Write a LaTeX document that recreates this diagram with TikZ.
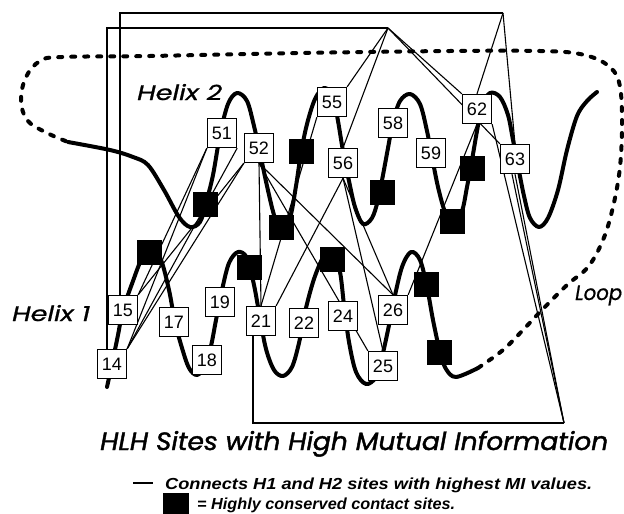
\documentclass[tikz,border=0pt]{standalone}
\usepackage{fontspec}
\setmainfont{Liberation Sans}
\newfontfamily\comicfont{Poppins}[ItalicFeatures={FakeBold=0.8}]
\newfontfamily\titlefont{Poppins}[ItalicFeatures={FakeBold=1.6}]
\usetikzlibrary{calc, backgrounds}

\tikzset{
  site/.style={draw, fill=white, line width=1.3pt, minimum size=29pt, inner sep=0pt,
    font=\fontsize{18}{18}\selectfont},
  contact/.style={fill=black, minimum size=25pt, inner sep=0pt},
  helix/.style={line width=4pt, line cap=round, line join=round},
  loopline/.style={line width=4pt, line cap=round, dash pattern=on 4pt off 9pt},
  link/.style={line width=1.1pt},
  frame/.style={line width=1.7pt},
  tag/.style={anchor=base west, inner sep=0pt, font=\comicfont\itshape\fontsize{21}{21}\selectfont},
  legend/.style={anchor=base west, inner sep=0pt, font=\bfseries\itshape\fontsize{16}{16}\selectfont},
}

\begin{document}
\begin{tikzpicture}[x=1pt, y=-1pt]
\useasboundingbox (0,0) rectangle (624,514);

% helix 1 sites
\node[site] (s14) at (112,364) {14};
\node[site] (s15) at (123,310) {15};
\node[site] (s17) at (174,322) {17};
\node[site] (s18) at (207,360) {18};
\node[site] (s19) at (220,302) {19};
\node[site] (s21) at (261,321) {21};
\node[site] (s22) at (304,323) {22};
\node[site] (s24) at (343,316) {24};
\node[site] (s25) at (383,366) {25};
\node[site] (s26) at (393,310) {26};
% helix 2 sites
\node[site] (s51) at (222,133) {51};
\node[site] (s52) at (259,148) {52};
\node[site] (s55) at (332,102) {55};
\node[site] (s56) at (343,163) {56};
\node[site] (s58) at (393,123) {58};
\node[site] (s59) at (431,153) {59};
\node[site] (s62) at (477,109) {62};
\node[site] (s63) at (515,159) {63};
% conserved contact sites
\node[contact] (c1) at (205,204) {};
\node[contact] (c2) at (301,151) {};
\node[contact] (c3) at (281,227) {};
\node[contact] (c4) at (149,252) {};
\node[contact] (c5) at (249,267) {};
\node[contact] (c6) at (332,259) {};
\node[contact] (c7) at (382,192) {};
\node[contact] (c8) at (452,221) {};
\node[contact] (c9) at (472,168) {};
\node[contact] (c10) at (426,284) {};
\node[contact] (c11) at (439,352) {};

\coordinate (apexA) at (388,28);
\coordinate (apexB) at (503,13);
\coordinate (cornerC) at (564,423);

\begin{pgfonlayer}{background}
\draw[loopline] plot[smooth, tension=0.6] coordinates {(478,368) (503,350) (523,330) (540,312)
  (567,285) (588,267) (603,240) (613,207) (620,167) (622,120) (619,82) (606,64) (580,54)
  (540,51) (450,51) (300,53) (150,56) (62,57) (40,61) (26,77) (21,100) (27,120) (45,132) (68,142)};

\draw[helix] plot[smooth, tension=0.55] coordinates {(107,387) (112,364) (118,335) (123,310)
  (133,281) (142,258) (151,247) (161,260) (169,290) (175,322) (182,348) (189,368) (197,375)
  (205,366) (211,346) (216,320) (222,290) (229,263) (238,252) (247,258) (254,285) (260,318)
  (266,349) (274,370) (283,376) (292,367) (299,343) (305,312) (314,279) (324,256) (333,252)
  (340,272) (344,305) (349,342) (356,372) (366,384) (376,377) (382,357) (388,330) (394,300)
  (402,267) (411,252) (420,260) (427,287) (433,320) (440,352) (446,369) (456,377) (478,368)};

\draw[helix] plot[smooth, tension=0.55] coordinates {(68,142) (110,150) (133,157) (148,165)
  (164,190) (179,217) (190,227) (200,222) (206,203) (213,175) (220,135) (228,104) (237,93)
  (247,101) (254,126) (260,153) (267,186) (274,215) (281,233) (290,218) (296,186) (301,153)
  (307,124) (315,99) (324,88) (333,96) (338,121) (343,151) (349,181) (355,207) (363,224)
  (372,218) (378,200) (383,175) (388,148) (393,122) (400,101) (410,94) (420,104) (427,131)
  (432,157) (438,187) (445,212) (453,225) (462,211) (467,187) (472,160) (477,131) (482,106)
  (490,93) (500,97) (508,115) (513,140) (518,166) (524,196) (530,218) (539,227) (548,218)
  (558,190) (567,150) (577,116) (587,101) (597,92)};

% routed connections
\draw[frame] ([xshift=-5pt]s14.north) |- (apexA);
\draw[frame] ([xshift=-3pt]s15.north) |- (apexB);
\draw[frame] ([xshift=-8pt]s21.south) |- (cornerC);
\draw[link] (apexA) -- (s55.north east);
\draw[link] (apexA) -- (s56.north);
\draw[link] (apexA) -- (s62.north west);
\draw[link] (apexA) -- (s63.north west);
\draw[link] (apexB) -- (s62.north);
\draw[link] (apexB) -- (s63.north);
\draw[link] (cornerC) -- (s62.south east);
\draw[link] (cornerC) -- ([xshift=-3pt]s63.south);
\draw[link] (cornerC) -- (s63.south);

% direct connections
\draw[link] (s14.north east) -- (s51.south west);
\draw[link] (s14.north east) -- (s51.south east);
\draw[link] (s14.north east) -- (s52.south west);
\draw[link] (s15.north east) -- (s51.south west);
\draw[link] (s15.north east) -- (s52.south west);
\draw[link] (s52.south) -- (s21.north);
\draw[link] (s52.south) -- (s25.north west);
\draw[link] (s52.south) -- (s26.north);
\draw[link] (s55.south west) -- (s21.north);
\draw[link] (s56.south) -- (s21.north east);
\draw[link] (s56.south) -- (s25.north);
\draw[link] (s56.south) -- (s26.north);
\draw[link] (s62.south) -- (s26.north east);
\end{pgfonlayer}

\node[tag] (h2) at (137,100) {\resizebox{85pt}{\height}{Helix 2}};
\node[tag] (h1) at (12,321) {\resizebox{78pt}{\height}{Helix 1}};
\node[tag] (lp) at (575,300) {\resizebox{47pt}{\height}{Loop}};

\node[anchor=base west, inner sep=0pt, font=\titlefont\itshape\fontsize{25}{25}\selectfont]
  (title) at (100,450) {\resizebox{508pt}{\height}{HLH Sites with High Mutual Information}};

\coordinate (d1) at (133,483);
\coordinate (d2) at (153,483);
\draw[line width=2.5pt] (d1) -- (d2);
\node[legend] (leg1) at (165,489) {\resizebox{427pt}{\height}{Connects H1 and H2 sites with highest MI values.}};
\node[contact, minimum size=26pt] (legsq) at (176,506) {};
\node[legend] (leg2) at (197,509) {\resizebox{258pt}{\height}{= Highly conserved contact sites.}};
\end{tikzpicture}
\end{document}
